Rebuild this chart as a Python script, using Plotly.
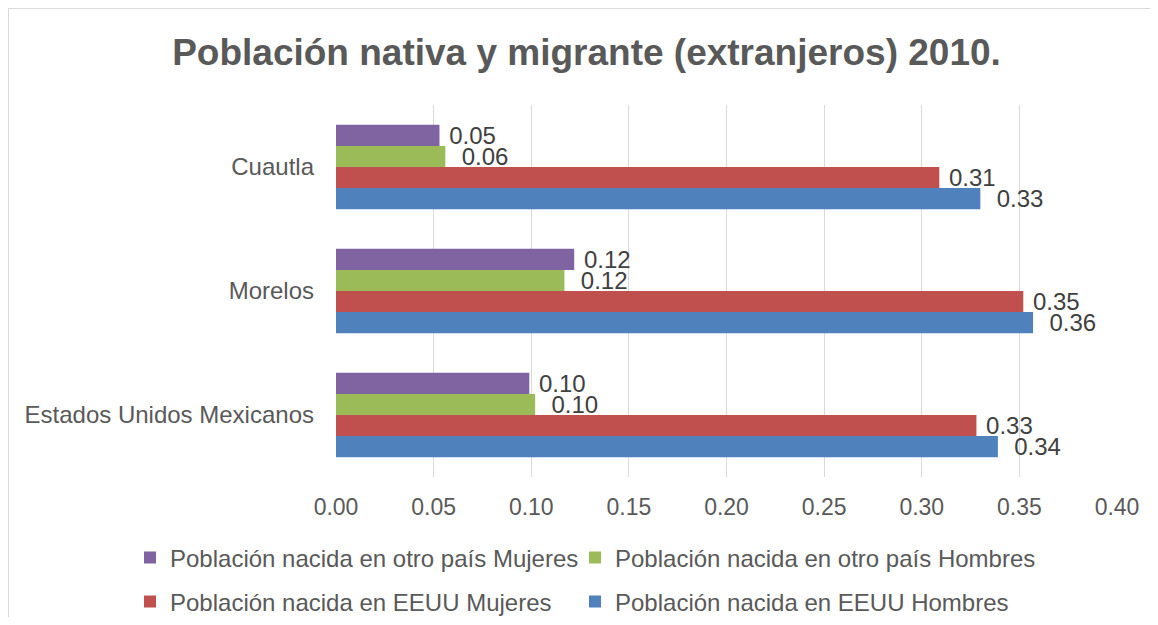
import plotly.graph_objects as go

categories = ["Estados Unidos Mexicanos", "Morelos", "Cuautla"]
eeuu_hombres = [0.339, 0.357, 0.330]
eeuu_mujeres = [0.328, 0.352, 0.309]
otro_hombres = [0.102, 0.117, 0.056]
otro_mujeres = [0.099, 0.122, 0.053]

NB = "\u00a0"
series = [
    ("Población nacida en EEUU Hombres", eeuu_hombres, "#4F81BD", "legend4", NB * 2),
    ("Población nacida en EEUU Mujeres", eeuu_mujeres, "#C0504D", "legend3", NB),
    ("Población nacida en otro país Hombres", otro_hombres, "#9BBB59", "legend2", NB * 2),
    ("Población nacida en otro país Mujeres", otro_mujeres, "#8064A2", "legend", NB),
]

FONT = "Liberation Sans, Arial, sans-serif"
fig = go.Figure()
for name, vals, color, lg, pre in series:
    fig.add_trace(go.Bar(
        y=categories, x=vals, name=name, orientation="h",
        marker=dict(color=color, line=dict(width=0)),
        texttemplate=pre + "%{x:.2f}", textposition="outside",
        constraintext="none",
        textfont=dict(family=FONT, size=24, color="#404040"),
        cliponaxis=False, legend=lg, showlegend=True,
    ))

# figure sits inside the page body (8px default margin)
W, H = 1142, 609
ml, mr, mt, mb = 328, 33, 97, 140
pw, ph = W - ml - mr, H - mt - mb

def px_x(x):
    return (x - ml) / pw

def px_y(y):
    return (H - mb - y) / ph

def leg(x, y):
    return dict(orientation="h", x=px_x(x), xanchor="left",
                y=px_y(y), yanchor="middle",
                font=dict(family=FONT, size=24, color="#595959"),
                bgcolor="rgba(0,0,0,0)", visible=True)

fig.update_layout(
    width=W, height=H, showlegend=True,
    margin=dict(l=ml, r=mr, t=mt, b=mb, autoexpand=False),
    paper_bgcolor="white", plot_bgcolor="white",
    barmode="group", bargap=0.32, bargroupgap=0,
    title=dict(text="<b>Población nativa y migrante (extranjeros) 2010.</b>",
               x=578.5 / W, xanchor="center", y=1 - 44 / H, yanchor="middle",
               font=dict(family=FONT, size=37, color="#595959")),
    xaxis=dict(range=[0, 0.40], dtick=0.05, tickformat=".2f",
               showgrid=True, gridcolor="#D9D9D9", gridwidth=1,
               zeroline=False, showline=False, ticks="",
               ticklabelstandoff=14,
               tickfont=dict(family=FONT, size=23, color="#595959")),
    yaxis=dict(showgrid=False, zeroline=False, showline=False, ticks="",
               ticklabelstandoff=21,
               tickfont=dict(family=FONT, size=24, color="#595959")),
    legend=leg(122, 550),
    legend2=leg(567, 550),
    legend3=leg(122, 594),
    legend4=leg(567, 594),
    shapes=[dict(type="rect", xref="paper", yref="paper",
                 x0=px_x(0.5), x1=px_x(1170), y0=px_y(640), y1=px_y(0.5),
                 line=dict(color="#D9D9D9", width=1), layer="below")],
)

fig.write_html("out.html")
